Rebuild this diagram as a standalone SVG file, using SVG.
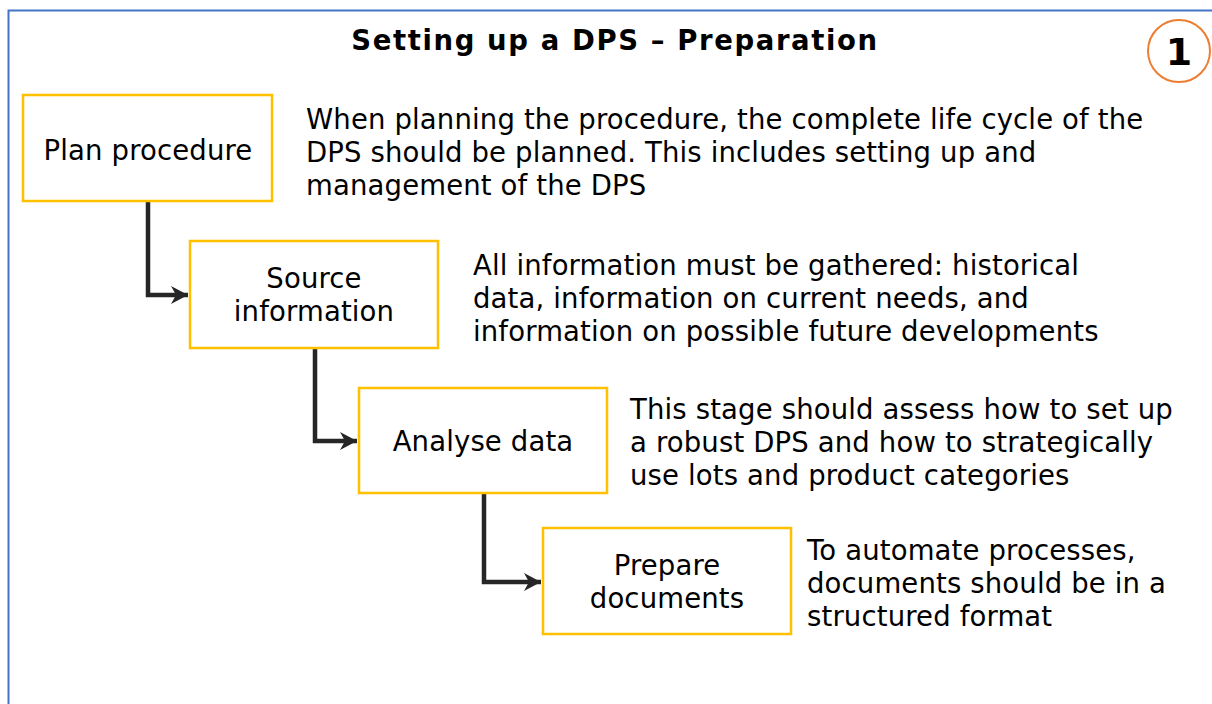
<svg xmlns="http://www.w3.org/2000/svg" width="1212" height="704" viewBox="0 0 1212 704">
<defs>
<style>
.t{font-family:"DejaVu Sans","Verdana",sans-serif;font-size:27.5px;fill:#000;letter-spacing:0.15px}
.c{text-anchor:middle}
.b{font-weight:bold}
.box{fill:#fff;stroke:#FFC000;stroke-width:2.5}
.con{fill:none;stroke:#262626;stroke-width:4.5}
</style>
<marker id="ah" markerUnits="userSpaceOnUse" markerWidth="20" markerHeight="20" viewBox="0 0 20 20" refX="18" refY="10" orient="auto">
<path d="M1,1 L18,10 L1,19 L6,10 Z" fill="#262626"/>
</marker>
</defs>
<rect width="1212" height="704" fill="#fff"/>
<rect x="8.5" y="10.5" width="1220" height="720" fill="none" stroke="#4472C4" stroke-width="2"/>
<text class="t b c" x="615" y="50" style="letter-spacing:1.6px">Setting up a DPS – Preparation</text>
<g id="badge">
<circle cx="1179" cy="51" r="31" fill="#fff" stroke="#ED7D31" stroke-width="2"/>
<text class="t b c" x="1179" y="65" style="font-size:38px;letter-spacing:0">1</text>
</g>
<g id="connectors">
<path class="con" d="M148,201 V295 H188" marker-end="url(#ah)"/>
<path class="con" d="M315,348 V441 H357" marker-end="url(#ah)"/>
<path class="con" d="M484,493 V582 H541" marker-end="url(#ah)"/>
</g>
<g id="n1">
<rect class="box" x="23" y="95" width="249" height="106"/>
<text class="t c" x="148" y="160">Plan procedure</text>
</g>
<g id="d1">
<text class="t" x="306" y="129">When planning the procedure, the complete life cycle of the</text>
<text class="t" x="306" y="162">DPS should be planned. This includes setting up and</text>
<text class="t" x="306" y="195">management of the DPS</text>
</g>
<g id="n2">
<rect class="box" x="190" y="241" width="248" height="107"/>
<text class="t c" x="314" y="288">Source</text>
<text class="t c" x="314" y="321">information</text>
</g>
<g id="d2">
<text class="t" x="473" y="275">All information must be gathered: historical</text>
<text class="t" x="473" y="308">data, information on current needs, and</text>
<text class="t" x="473" y="341">information on possible future developments</text>
</g>
<g id="n3">
<rect class="box" x="359" y="388" width="248" height="105"/>
<text class="t c" x="483" y="451">Analyse data</text>
</g>
<g id="d3">
<text class="t" x="630" y="419">This stage should assess how to set up</text>
<text class="t" x="630" y="452">a robust DPS and how to strategically</text>
<text class="t" x="630" y="485">use lots and product categories</text>
</g>
<g id="n4">
<rect class="box" x="543" y="528" width="248" height="106"/>
<text class="t c" x="667" y="575">Prepare</text>
<text class="t c" x="667" y="608">documents</text>
</g>
<g id="d4">
<text class="t" x="807" y="560">To automate processes,</text>
<text class="t" x="807" y="593">documents should be in a</text>
<text class="t" x="807" y="626">structured format</text>
</g>
</svg>
